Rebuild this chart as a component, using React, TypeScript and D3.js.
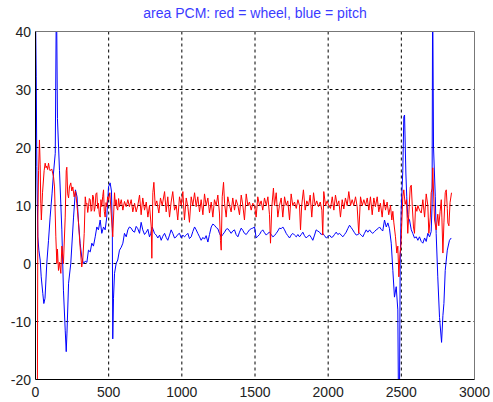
import React from "react";
import * as d3 from "d3";

const titleText = "area PCM: red = wheel, blue = pitch";
const xTicks = [0, 500, 1000, 1500, 2000, 2500, 3000];
const yTicks = [-20, -10, 0, 10, 20, 30, 40];

// pitch (blue): [x, value]
const pitch: [number, number][] = [
  [0,44],[5,32.3],[9,16.7],[16,4.6],[23,2.3],[32,0.6],[39,-2.3],[50,-5.2],[57,-6.9],[65,-6],[77,0],[89,4],[100,8],[113,12],[123,15.6],[135,19],[143,48],[150,25],[164,16],[180,5.8],[191,-4.6],[203,-11.5],[210,-15.2],[215,-12],[226,-3.4],[241,0],[260,8],[273,12.7],[284,11.5],[294,7],[305,3.5],[316,1.1],[328,0],[340,0.4],[351,0.2],[362,2.3],[374,2],[385,3.5],[396,3],[408,4.6],[419,6.3],[430,5.8],[442,7.5],[453,5.2],[465,6.3],[476,5.8],[487,8],[499,13.2],[510,13.9],[519,12.5],[525,6],[528,-13],[533,-6],[540,-1.7],[551,0],[562,0.6],[574,2.3],[586,2.8],[597,3.5],[608,5.2],[620,4.6],[631,5.8],[642,6.3],[654,6.1],[665,5.6],[677,5.4],[688,6.4],[699,6.0],[711,5.2],[722,7.1],[733,5.8],[745,5.0],[757,5.4],[768,5.9],[779,4.6],[788,5.2],[797,6.3],[805,5.8],[813,5.2],[825,4.9],[836,4.4],[848,4.9],[859,4.0],[870,4.7],[882,5.2],[893,4.5],[904,4.0],[916,4.9],[927,5.8],[938,5.2],[950,4.4],[962,4.6],[972,5.0],[984,5.2],[996,4.4],[1007,4.9],[1018,4.6],[1030,4.9],[1041,5.2],[1052,4.3],[1064,4.6],[1075,5.5],[1087,6.3],[1098,5.8],[1109,5.2],[1121,4.6],[1132,4.0],[1144,4.5],[1155,4.2],[1166,4.8],[1178,3.7],[1189,5.0],[1201,6.3],[1212,6.8],[1223,6.6],[1235,6.2],[1246,6.0],[1257,5.2],[1269,4.6],[1280,5.0],[1292,5.4],[1303,5.9],[1314,6.0],[1326,5.6],[1337,5.2],[1348,5.6],[1360,5.8],[1371,5.0],[1383,4.6],[1394,5.4],[1406,6.1],[1417,5.7],[1428,5.2],[1440,5.0],[1451,5.4],[1462,5.8],[1474,6.0],[1485,6.1],[1497,6.3],[1508,4.4],[1519,4.7],[1531,5.0],[1542,5.5],[1553,5.8],[1565,5.3],[1577,4.9],[1588,5.2],[1599,5.4],[1611,5.0],[1622,4.6],[1633,4.8],[1645,5.2],[1656,5.6],[1667,6.1],[1679,6.0],[1690,6.3],[1702,5.8],[1713,5.2],[1724,4.8],[1736,4.4],[1747,4.9],[1758,5.2],[1770,4.9],[1782,4.6],[1793,5.0],[1804,4.6],[1816,5.0],[1827,5.4],[1838,4.8],[1850,4.4],[1861,4.7],[1873,4.9],[1884,4.5],[1895,4.0],[1907,4.9],[1918,5.8],[1929,5.6],[1941,5.4],[1952,5.0],[1963,5.2],[1975,4.8],[1987,4.4],[1998,4.6],[2009,4.9],[2021,4.5],[2032,4.6],[2043,5.0],[2055,5.4],[2066,5.0],[2078,5.2],[2089,4.9],[2100,4.6],[2112,5.0],[2123,5.4],[2134,6.0],[2146,6.6],[2157,6.2],[2168,5.8],[2180,5.3],[2192,4.9],[2203,5.0],[2214,5.2],[2226,4.9],[2237,4.6],[2248,5.2],[2260,5.8],[2271,5.4],[2283,5.8],[2294,5.4],[2305,5.2],[2317,5.5],[2328,5.8],[2340,6.0],[2351,6.3],[2362,5.9],[2373,5.6],[2385,7.5],[2397,6.3],[2408,7.0],[2419,6.0],[2431,3.5],[2442,-1.2],[2453,-5.8],[2465,-4.0],[2476,-8],[2481,-26],[2487,-26],[2492,0],[2499,9.2],[2510,16],[2517,25.3],[2522,25.6],[2531,15.6],[2537,11.5],[2544,8],[2556,7.5],[2568,5.8],[2578,5.2],[2590,4.4],[2602,4.6],[2613,4.0],[2624,4.6],[2636,3.8],[2647,3.5],[2659,4.4],[2670,3.8],[2681,5.2],[2693,4.6],[2704,5.5],[2710,10],[2714,48],[2720,20],[2732,11.5],[2738,5.2],[2749,-2.3],[2761,-9.3],[2775,-13.6],[2784,-9],[2791,-6.9],[2800,-1.2],[2814,2.3],[2829,4],[2841,4.4]
];

// wheel (red): [x, value]
const wheel: [number, number][] = [
  [0,-30],[12,-30],[16,7.5],[21,16],[27,21.3],[32,17],[36,10.4],[40,7.5],[48,12.2],[59,16],[66,17.3],[72,16.5],[77,16.8],[83,16.2],[89,17.3],[95,16.4],[100,16],[111,16.3],[123,15],[130,13.2],[139,4.6],[146,0],[150,2.5],[157,-1.2],[164,0.2],[173,-1.7],[180,3],[191,0],[203,8],[210,16],[214,16.6],[220,12],[226,11.3],[232,13.2],[241,13.9],[248,12.5],[255,13.2],[264,11.5],[273,12.5],[282,10.4],[294,7],[305,2.8],[316,-0.6],[323,0.6],[333,5.2],[340,11.5],[346,10.2],[351,10.4],[357,8.8],[362,9.8],[368,11.2],[374,11],[380,9.0],[385,9.2],[391,11.8],[396,11.5],[402,9.0],[408,9.8],[413,12.0],[419,12.2],[425,9.5],[430,10.4],[436,8.5],[442,8],[447,11.0],[453,9.8],[459,11.5],[465,12.7],[470,9.0],[476,8],[482,10.5],[487,9.8],[493,11.5],[499,11],[508,12.2],[517,8.7],[528,4.6],[540,12.2],[546,10.0],[551,11.0],[557,9.5],[562,9.2],[568,11.2],[574,9.8],[586,11.0],[597,9.2],[608,10.7],[620,9.8],[631,11.0],[642,9.8],[654,11.0],[665,8.9],[677,10.4],[688,8.9],[699,10.0],[711,11.8],[722,8.4],[733,11.3],[745,9.2],[757,10.6],[768,8.0],[779,10.0],[791,6.3],[795,0.9],[802,12.2],[809,14],[818,10.0],[829,10.8],[843,8.7],[854,11.3],[866,10.0],[882,12.4],[893,8.9],[904,11.5],[916,8.0],[927,10.6],[938,12.4],[950,9.2],[962,10.0],[972,7.5],[984,11.5],[996,10.0],[1007,12.4],[1018,7.5],[1030,11.3],[1041,9.8],[1052,7.1],[1064,11.5],[1075,10.0],[1087,12.2],[1098,9.8],[1109,11.5],[1121,8.9],[1132,11.0],[1144,8.4],[1155,12.0],[1166,10.0],[1178,11.3],[1189,8.7],[1201,10.6],[1212,8.0],[1223,11.0],[1235,10.0],[1246,11.8],[1257,8.7],[1264,4.0],[1269,2.3],[1276,11.5],[1285,14],[1292,10.4],[1303,8.0],[1314,11.5],[1326,10.0],[1337,8.9],[1348,11.3],[1360,9.2],[1371,11.0],[1383,10.0],[1394,8.4],[1406,11.8],[1417,10.0],[1428,7.5],[1440,12.0],[1451,10.0],[1462,10.6],[1474,9.2],[1485,10.4],[1497,10.0],[1508,8.0],[1519,11.5],[1531,10.0],[1542,10.8],[1553,9.2],[1565,11.3],[1577,10.0],[1588,11.5],[1599,8.4],[1606,3.5],[1615,9.8],[1626,13.0],[1633,10.0],[1645,12.2],[1656,8.0],[1667,10.0],[1679,11.3],[1690,8.0],[1702,11.5],[1713,10.0],[1724,10.8],[1736,7.5],[1747,12.0],[1758,10.0],[1770,10.6],[1782,9.5],[1793,11.0],[1804,10.0],[1811,5.8],[1819,10.0],[1831,12.7],[1843,9.2],[1854,10.8],[1866,10.0],[1877,11.8],[1888,8.0],[1900,12.2],[1911,10.0],[1922,10.8],[1934,9.8],[1946,10.6],[1957,9.2],[1963,4.9],[1970,12.4],[1982,10.0],[1993,10.8],[2004,10.0],[2016,9.5],[2028,11.5],[2039,9.2],[2050,11.8],[2062,10.0],[2073,10.8],[2084,8.0],[2096,11.0],[2107,9.4],[2118,11.3],[2130,10.0],[2141,12.4],[2153,10.0],[2164,11.0],[2175,10.0],[2187,11.5],[2198,9.8],[2209,5.2],[2221,11.5],[2233,10.0],[2244,11.0],[2255,10.0],[2267,11.3],[2278,9.2],[2289,11.5],[2301,8.4],[2312,11.3],[2323,9.8],[2335,11.5],[2346,8.9],[2357,10.4],[2369,8.0],[2380,11.0],[2392,9.2],[2403,10.6],[2414,8.4],[2426,10.0],[2435,7.5],[2442,9.0],[2449,7],[2460,4.6],[2469,1.8],[2476,3.0],[2483,-2.3],[2490,1.5],[2497,3],[2510,11.5],[2517,12.7],[2526,10.2],[2535,11],[2544,5.2],[2551,8.5],[2561,13.2],[2568,13.5],[2575,9.8],[2583,6.3],[2590,5.2],[2597,9.8],[2606,9.0],[2613,10.0],[2624,9.2],[2636,8.7],[2647,11.0],[2659,8.0],[2670,12.0],[2681,10.0],[2688,5.2],[2698,8.0],[2704,12.2],[2711,13],[2715,16.5],[2720,12.5],[2727,7.5],[2738,5.8],[2749,8.5],[2756,6.5],[2765,9],[2773,11],[2777,8],[2784,1.8],[2791,7],[2800,12.2],[2807,12.7],[2814,9.5],[2818,7],[2825,6.5],[2833,10.5],[2843,12.2]
];

const W = 493;
const H = 402;
const left = 35.5, right = 474.5, top = 31.5, bottom = 379.5;

export default function App() {
  const x = d3.scaleLinear().domain([0, 3000]).range([left, right]);
  const y = d3.scaleLinear().domain([-20, 40]).range([bottom, top]);
  const line = d3.line<[number, number]>().x((d) => x(d[0])).y((d) => y(d[1]));
  const font = "Arial, 'Liberation Sans', Helvetica, sans-serif";
  return (
    <svg width={W} height={H} style={{ position: "absolute", left: 0, top: 0, background: "#fff" }}>
      <rect x={0} y={0} width={W} height={H} fill="#fff" />
      <defs>
        <clipPath id="plotclip">
          <rect x={left} y={top} width={right - left} height={bottom - top} />
        </clipPath>
      </defs>
      <text x={(left + right) / 2} y={18} textAnchor="middle" fill="#3b3bff" fontFamily={font} fontSize={14}>
        {titleText}
      </text>
      {xTicks.slice(1, -1).map((t) => (
        <line key={"gx" + t} x1={x(t)} x2={x(t)} y1={top} y2={bottom} stroke="#000" strokeWidth={1} strokeDasharray="3,3" />
      ))}
      {yTicks.slice(1, -1).map((t) => (
        <line key={"gy" + t} x1={left} x2={right} y1={y(t)} y2={y(t)} stroke="#000" strokeWidth={1} strokeDasharray="3,3" />
      ))}
      <g clipPath="url(#plotclip)">
        <path d={line(pitch) || ""} fill="none" stroke="#0000ff" strokeWidth={1} />
        <path d={line(wheel) || ""} fill="none" stroke="#ff0000" strokeWidth={1} />
      </g>
      <line x1={left} x2={right} y1={top} y2={top} stroke="#777" strokeWidth={1} />
      <line x1={right} x2={right} y1={top} y2={bottom} stroke="#777" strokeWidth={1} />
      <line x1={left} x2={left} y1={top} y2={bottom} stroke="#000" strokeWidth={1} />
      <line x1={left} x2={right} y1={bottom} y2={bottom} stroke="#000" strokeWidth={1} />
      {xTicks.map((t) => (
        <text key={"tx" + t} x={x(t)} y={397} textAnchor="middle" fill="#222" fontFamily={font} fontSize={14}>
          {t}
        </text>
      ))}
      {yTicks.map((t) => (
        <text key={"ty" + t} x={31} y={y(t) + 5} textAnchor="end" fill="#222" fontFamily={font} fontSize={14}>
          {t}
        </text>
      ))}
    </svg>
  );
}
